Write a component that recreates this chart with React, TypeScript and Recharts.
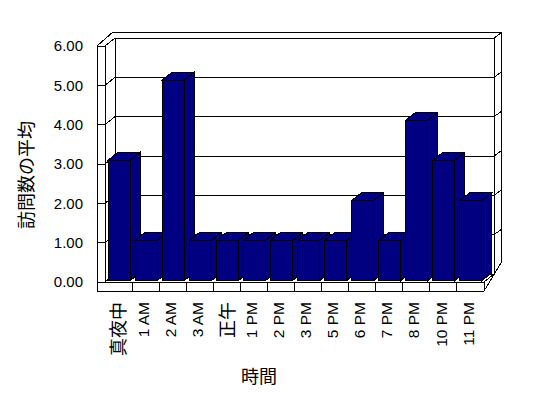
import React from 'react';
import { BarChart, Bar, XAxis, YAxis, CartesianGrid, Customized } from 'recharts';

const HOURS = ['真夜中', '1 AM', '2 AM', '3 AM', '正午', '1 PM', '2 PM', '3 PM', '5 PM', '6 PM', '7 PM', '8 PM', '10 PM', '11 PM'];
const AVG_VISITS = [3, 1, 5, 1, 1, 1, 1, 1, 1, 2, 1, 4, 3, 2];
const Y_TICKS = [0, 1, 2, 3, 4, 5, 6];

const data = HOURS.map((hour, i) => ({ hour, visits: AVG_VISITS[i] }));

const W = 548;
const H = 398;
// front plane of the 3d box
const LEFT = 105;
const RIGHT = 484;
const TOP = 46;
const BOTTOM = 282;
const DX = 10; // depth of the box
const DY = -8;
const SLAB = 8; // wall thickness
const NAVY = '#000080';
const FONT = "'Liberation Sans', Arial, sans-serif";
const CJK = "'Noto Sans CJK JP', sans-serif";

function Box3D(props: any) {
  const { x, y, width, height } = props;
  if (!height) return null;
  const r = x + width;
  const b = y + height;
  return (
    <g stroke="#000" strokeWidth={1} fill={NAVY} shapeRendering="crispEdges">
      <polygon points={`${r},${y} ${r + DX},${y + DY} ${r + DX},${b + DY} ${r},${b}`} />
      <polygon points={`${x},${y} ${x + DX},${y + DY} ${r + DX},${y + DY} ${r},${y}`} />
      <rect x={x} y={y} width={width} height={height} />
    </g>
  );
}

// gridline on the back wall + its bits on the side wall and wall slabs
function WallLine(p: any) {
  const { x1, x2, y1 } = p;
  const atFloor = Math.abs(y1 - BOTTOM) < 1;
  return (
    <g key={p.key} stroke="#000" fill="none" shapeRendering="crispEdges">
      <line x1={x1 - SLAB} y1={y1} x2={x1} y2={y1} />
      <line x1={x1} y1={y1} x2={x1 + DX} y2={y1 + DY} />
      <line x1={x1 + DX} y1={y1 + DY} x2={x2 + DX} y2={y1 + DY} />
      {!atFloor && <line x1={x2 + DX} y1={y1 + DY} x2={x2 + DX + 7} y2={y1 + DY - 5} />}
    </g>
  );
}

function Frame() {
  return (
    <g>
      <g stroke="#000" fill="none" shapeRendering="crispEdges">
        <line x1={LEFT - SLAB} y1={TOP} x2={LEFT - SLAB} y2={BOTTOM + 9} />
        <line x1={LEFT} y1={TOP} x2={LEFT} y2={BOTTOM} />
        <line x1={LEFT - SLAB} y1={TOP} x2={LEFT + 8} y2={TOP - 14} />
        <line x1={LEFT + 8} y1={TOP - 14} x2={RIGHT + DX + 7} y2={TOP - 14} />
        <line x1={LEFT + DX} y1={TOP + DY} x2={LEFT + DX} y2={BOTTOM + DY} />
        <line x1={RIGHT + DX} y1={TOP + DY} x2={RIGHT + DX} y2={BOTTOM + DY} />
        <line x1={RIGHT + DX + 7} y1={TOP - 14} x2={RIGHT + DX + 7} y2={BOTTOM - 19} />
        <line x1={RIGHT + DX + 7} y1={BOTTOM - 19} x2={RIGHT} y2={BOTTOM + 9} />
        <line x1={LEFT - SLAB} y1={BOTTOM} x2={RIGHT} y2={BOTTOM} />
        <line x1={LEFT - SLAB} y1={BOTTOM + 9} x2={RIGHT} y2={BOTTOM + 9} />
        <line x1={RIGHT} y1={BOTTOM} x2={RIGHT} y2={BOTTOM + 9} />
        <line x1={RIGHT} y1={BOTTOM} x2={RIGHT + DX} y2={BOTTOM + DY} />
      </g>
      <text
        x={25}
        y={175}
        transform="rotate(-90 25 175)"
        textAnchor="middle"
        dominantBaseline="central"
        fontSize={18}
        fontFamily={CJK}
        fill="#000"
      >
        訪問数の平均
      </text>
      <text x={259} y={375} textAnchor="middle" dominantBaseline="central" fontSize={18} fontFamily={CJK} fill="#000">
        時間
      </text>
    </g>
  );
}

function HourTick(props: any) {
  const { x, y, payload, index } = props;
  const label = String(payload.value);
  const cjk = /[^\x00-\x7f]/.test(label);
  const band = (RIGHT - LEFT) / HOURS.length;
  return (
    <g>
      {index < HOURS.length - 1 && (
        <line
          x1={x + band / 2}
          y1={BOTTOM}
          x2={x + band / 2}
          y2={BOTTOM + 9}
          stroke="#000"
          shapeRendering="crispEdges"
        />
      )}
      <text
        transform={`translate(${x},${y}) rotate(-90)`}
        textAnchor="end"
        dy={cjk ? '0.38em' : '0.2em'}
        fontSize={cjk ? 18 : 15.5}
        fontFamily={cjk ? CJK : FONT}
        fill="#000"
      >
        {label}
      </text>
    </g>
  );
}

export default function App() {
  return (
    <div style={{ position: 'absolute', left: 0, top: 0, width: W, height: H, background: '#fff' }}>
      <BarChart
        width={W}
        height={H}
        data={data}
        margin={{ top: TOP, right: W - RIGHT, bottom: 16, left: 45 }}
        style={{ fontFamily: FONT }}
      >
        <Customized component={Frame} />
        <CartesianGrid vertical={false} horizontal={WallLine} />
        <XAxis
          dataKey="hour"
          interval={0}
          height={100}
          axisLine={false}
          tickLine={false}
          tickSize={8}
          tickMargin={12}
          tick={HourTick}
        />
        <YAxis
          width={60}
          type="number"
          domain={[0, 6]}
          allowDataOverflow
          ticks={Y_TICKS}
          interval={0}
          axisLine={false}
          tickLine={false}
          tickSize={8}
          tickMargin={14}
          tickFormatter={(v: number) => v.toFixed(2)}
          tick={{ fill: '#000', fontSize: 15, fontFamily: FONT }}
        />
        <YAxis yAxisId="bars" hide domain={[-0.032, 5.849]} allowDataOverflow />
        <Bar dataKey="visits" yAxisId="bars" barSize={22} shape={Box3D} isAnimationActive={false} />
      </BarChart>
    </div>
  );
}
